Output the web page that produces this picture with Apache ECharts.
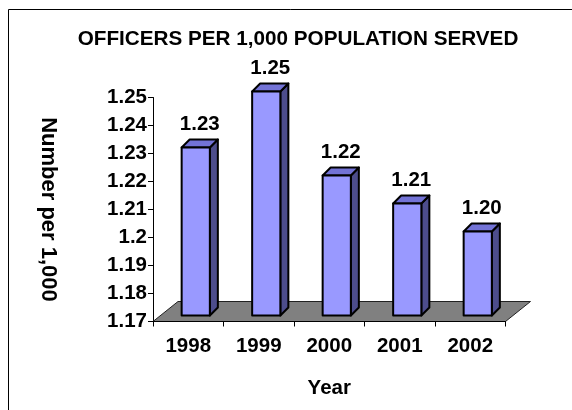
<!DOCTYPE html>
<html>
<head>
<meta charset="utf-8">
<script src="https://cdn.jsdelivr.net/npm/echarts@6/dist/echarts.min.js"></script>
<style>
html,body{margin:0;padding:0;background:#fff;}
#chart{width:572px;height:410px;}
</style>
</head>
<body>
<div id="chart"></div>
<script>
var years = ['1998', '1999', '2000', '2001', '2002'];
var officersPer1000 = [1.23, 1.25, 1.22, 1.21, 1.20];
var yMin = 1.17, yMax = 1.25, yStep = 0.01;

var FONT = '"Liberation Sans", Arial, sans-serif';
var chart = echarts.init(document.getElementById('chart'), null, {renderer: 'canvas'});

var DX = 8, DY = -8;          // bar depth offset
var FDX = 25, FDY = -20;      // floor depth offset

var option = {
  backgroundColor: '#ffffff',
  animation: false,
  title: {
    text: 'OFFICERS PER 1,000 POPULATION SERVED',
    left: 293,
    textAlign: 'center',
    top: 24,
    textStyle: {fontFamily: FONT, fontWeight: 'bold', fontSize: 20.7, color: '#000'}
  },
  graphic: [{
    type: 'rect',
    shape: {x: 8.5, y: 9.5, width: 620, height: 460},
    style: {fill: 'none', stroke: '#000', lineWidth: 1},
    silent: true
  }],
  grid: {left: 153, right: 66.5, top: 97.5, bottom: 88.5, containLabel: false},
  xAxis: {
    type: 'category',
    data: years,
    boundaryGap: true,
    name: 'Year',
    nameLocation: 'middle',
    nameGap: 56,
    nameTextStyle: {fontFamily: FONT, fontWeight: 'bold', fontSize: 20.5, color: '#000'},
    axisLine: {show: true, lineStyle: {color: '#000', width: 1}},
    axisTick: {show: true, length: 5, alignWithLabel: false, lineStyle: {color: '#000'}},
    axisLabel: {margin: 14, fontFamily: FONT, fontWeight: 'bold', fontSize: 20.5, color: '#000'},
    splitLine: {show: false},
    z: 1
  },
  yAxis: {
    type: 'value',
    min: yMin,
    max: yMax,
    interval: yStep,
    name: 'Number per 1,000',
    nameLocation: 'middle',
    nameRotate: -90,
    nameGap: 94,
    nameTextStyle: {fontFamily: FONT, fontWeight: 'bold', fontSize: 22, color: '#000'},
    axisLine: {show: true, lineStyle: {color: '#000', width: 1}},
    axisTick: {show: true, length: 5, lineStyle: {color: '#000'}},
    axisLabel: {margin: 6, fontFamily: FONT, fontWeight: 'bold', fontSize: 20.5, color: '#000'},
    splitLine: {show: false}
  },
  series: [
    {
      type: 'custom',
      name: 'floor',
      silent: true,
      clip: false,
      z: 1,
      data: [[0, yMin]],
      renderItem: function (params, api) {
        var bw = api.size([1, 0])[0];
        var p0 = api.coord([0, yMin]);
        var p1 = api.coord([years.length - 1, yMin]);
        var l = p0[0] - bw / 2, r = p1[0] + bw / 2, y = p0[1];
        return {
          type: 'polygon',
          shape: {points: [[l, y], [r, y], [r + FDX, y + FDY], [l + FDX, y + FDY]]},
          style: {fill: '#808080', stroke: '#222', lineWidth: 1}
        };
      }
    },
    {
      type: 'custom',
      name: 'Officers per 1,000',
      clip: false,
      z: 3,
      data: officersPer1000.map(function (v, i) { return [i, v]; }),
      encode: {x: 0, y: 1},
      renderItem: function (params, api) {
        var i = api.value(0), v = api.value(1);
        var bw = api.size([1, 0])[0];
        var top = api.coord([i, v]);
        var base = api.coord([i, yMin]);
        var w = bw * 0.4;
        var cx = top[0] + 7.5;
        var x0 = cx - w / 2, x1 = cx + w / 2;
        var yT = top[1] - 6, yB = base[1] - 6;
        var st = {stroke: '#000', lineWidth: 2, lineJoin: 'round'};
        return {
          type: 'group',
          children: [
            {type: 'polygon', shape: {points: [[x1, yT], [x1 + DX, yT + DY], [x1 + DX, yB + DY], [x1, yB]]},
              style: Object.assign({fill: '#4D4D8C'}, st)},
            {type: 'polygon', shape: {points: [[x0, yT], [x0 + DX, yT + DY], [x1 + DX, yT + DY], [x1, yT]]},
              style: Object.assign({fill: '#7373D6'}, st)},
            {type: 'rect', shape: {x: x0, y: yT, width: w, height: yB - yT},
              style: Object.assign({fill: '#9999FF'}, st)},
            {type: 'text', x: cx + DX / 2, y: yT + DY - 15,
              style: {text: v.toFixed(2), fill: '#000', font: 'bold 20.5px ' + FONT,
                      textAlign: 'center', textVerticalAlign: 'middle'}}
          ]
        };
      }
    }
  ]
};
chart.setOption(option);
</script>
</body>
</html>
